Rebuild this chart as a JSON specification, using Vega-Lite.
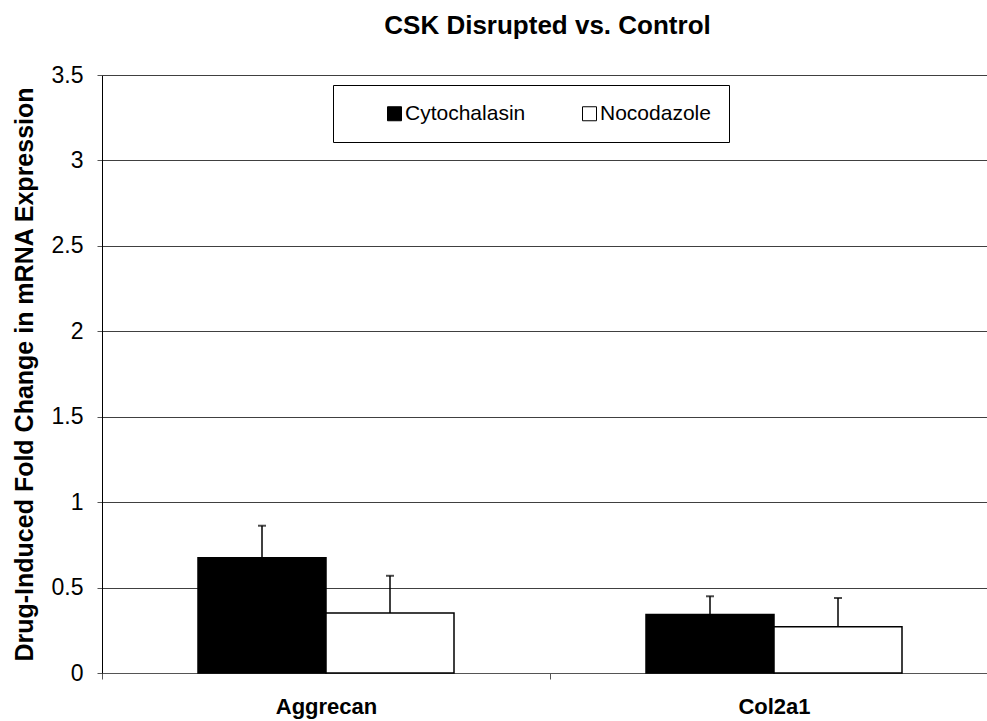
{
  "$schema": "https://vega.github.io/schema/vega-lite/v6.json",
  "width": 885,
  "height": 598,
  "autosize": "none",
  "padding": {"left": 102, "top": 75, "right": 0, "bottom": 48},
  "background": "white",
  "config": {
    "font": "Liberation Sans",
    "view": {"stroke": null}
  },
  "title": {
    "text": "CSK Disrupted vs. Control",
    "fontSize": 26,
    "fontWeight": "bold",
    "color": "black",
    "offset": 25,
    "dx": 3,
    "anchor": "middle"
  },
  "data": {
    "values": [
      {"gene": "Aggrecan", "drug": "Cytochalasin", "value": 0.675, "upper": 0.862},
      {"gene": "Aggrecan", "drug": "Nocodazole", "value": 0.351, "upper": 0.569},
      {"gene": "Col2a1", "drug": "Cytochalasin", "value": 0.343, "upper": 0.449},
      {"gene": "Col2a1", "drug": "Nocodazole", "value": 0.271, "upper": 0.439}
    ]
  },
  "encoding": {
    "x": {
      "field": "gene",
      "type": "nominal",
      "sort": ["Aggrecan", "Col2a1"],
      "scale": {"range": [0, 896], "paddingInner": 0, "paddingOuter": 0},
      "axis": {
        "title": null,
        "labelFontSize": 22,
        "labelFontWeight": "bold",
        "labelColor": "black",
        "labelAngle": 0,
        "labelBaseline": "alphabetic",
        "labelPadding": 34,
        "tickBand": "extent",
        "tickSize": 6,
        "tickColor": "#555",
        "domainColor": "#555",
        "grid": false
      }
    },
    "xOffset": {
      "field": "drug",
      "type": "nominal",
      "sort": ["Cytochalasin", "Nocodazole"],
      "scale": {"paddingOuter": 0.75, "paddingInner": 0}
    }
  },
  "layer": [
    {
      "mark": {"type": "bar", "stroke": "black", "strokeWidth": 1.5},
      "encoding": {
        "y": {
          "field": "value",
          "type": "quantitative",
          "scale": {"domain": [0, 3.5]},
          "axis": {
            "title": "Drug-Induced Fold Change in mRNA Expression",
            "titleFontSize": 25,
            "titleFontWeight": "bold",
            "titleColor": "black",
            "titlePadding": 14,
            "values": [0, 0.5, 1, 1.5, 2, 2.5, 3, 3.5],
            "format": "~g",
            "labelFontSize": 23,
            "labelColor": "black",
            "labelPadding": 14,
            "tickSize": 5,
            "tickColor": "#555",
            "domainColor": "black",
            "grid": true,
            "gridColor": "#404040"
          }
        },
        "fill": {
          "field": "drug",
          "type": "nominal",
          "scale": {"domain": ["Cytochalasin", "Nocodazole"], "range": ["black", "white"]},
          "legend": {
            "orient": "none",
            "legendX": 231,
            "legendY": 10,
            "direction": "horizontal",
            "title": " ",
            "titleOrient": "left",
            "titlePadding": 33,
            "strokeColor": "black",
            "fillColor": "white",
            "padding": 18,
            "symbolType": "square",
            "symbolSize": 196,
            "symbolStrokeColor": "black",
            "symbolStrokeWidth": 1,
            "labelFontSize": 21,
            "labelColor": "black",
            "labelOffset": 0,
            "columnPadding": 53
          }
        }
      }
    },
    {
      "mark": {"type": "rule", "color": "black", "strokeWidth": 1.5},
      "encoding": {
        "y": {"field": "value", "type": "quantitative"},
        "y2": {"field": "upper"}
      }
    },
    {
      "mark": {"type": "tick", "color": "black", "size": 8, "thickness": 2},
      "encoding": {
        "y": {"field": "upper", "type": "quantitative"}
      }
    }
  ]
}
